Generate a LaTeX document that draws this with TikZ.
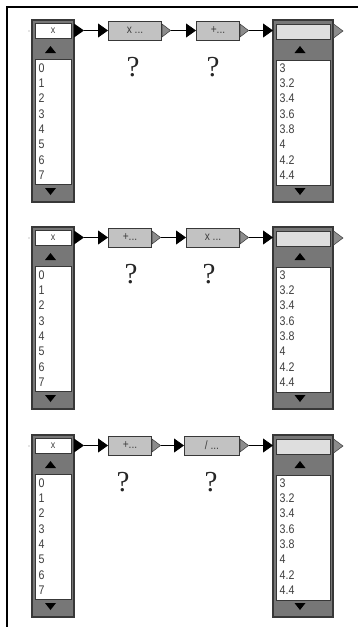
\documentclass[tikz,border=0pt]{standalone}
\usepackage{fontspec}
\setmainfont{Liberation Serif}
\setsansfont{Liberation Sans}
\newfontfamily\listfont[FakeStretch=0.85]{Liberation Sans}
\usetikzlibrary{arrows.meta}
\definecolor{bodyg}{HTML}{777777}
\definecolor{bdr}{HTML}{383838}
\definecolor{opg}{HTML}{C2C2C2}
\definecolor{hdrl}{HTML}{DEDEDE}
\definecolor{txtg}{HTML}{3E3E3E}
\definecolor{trig}{HTML}{8C8C8C}
\tikzset{
 body/.style={draw=bdr, fill=bodyg, line width=1.2pt, minimum width=42pt, minimum height=182pt, inner sep=0pt, outer sep=0pt, anchor=north west},
 hdrbox/.style={draw=bdr, line width=0.8pt, minimum height=15pt, inner sep=0pt, font=\listfont\fontsize{10.5}{10.5}\selectfont, text=txtg},
 listbox/.style={draw=bdr, fill=white, line width=0.8pt, minimum height=125pt, inner sep=0pt, anchor=north west},
 item/.style={anchor=west, inner sep=0pt, font=\listfont\fontsize{12.5}{12.5}\selectfont, text=txtg},
 opbox/.style={draw=bdr, fill=opg, line width=1pt, minimum height=19pt, inner sep=0pt, anchor=west, font=\listfont\fontsize{12}{12}\selectfont, text=txtg},
 conn/.style={line width=0.8pt, draw=black, -{Triangle[length=10pt,width=14pt]}},
 qmark/.style={font=\fontsize{29}{29}\selectfont, text=black!85, inner sep=0pt},
 outtri/.style={fill=trig, draw=bdr, line width=0.5pt},
}
\newcommand\mypanel[8]{%
\begin{scope}[shift={(0,#2)}]
 % left list box
 \node[body] (L#1) at (32,0) {};
 \node[hdrbox, fill=white, minimum width=36pt] (LH#1) at (53,10.5) {x};
 \node[listbox, minimum width=36pt] (LL#1) at (35,39) {};
 \foreach \v [count=\i from 0] in {0,1,2,3,4,5,6,7}
   \node[item] (LI#1\i) at (38.5,48+15.3*\i) {\v};
 \fill[black] (45,33) -- (56,33) -- (50.5,26) -- cycle;
 \fill[black] (45,168) -- (56,168) -- (50.5,175) -- cycle;
 \fill[black] (74,3.5) -- (84,10.5) -- (74,17.5) -- cycle;
 \coordinate (LO#1) at (84,10.5);
 \fill[black!45] (29,11) circle (0.7);
 % first operator
 \node[opbox, minimum width=#4pt] (A#1) at (108,10.5) {#3};
 \draw[conn] (LO#1) -- (A#1.west);
 \filldraw[outtri] (A#1.east) ++(0,-6.5) -- ++(8.5,6.5) -- ++(-8.5,6.5) -- cycle;
 \path (A#1.east) ++(8.5,0) coordinate (AO#1);
 \node[qmark] (QA#1) at (#7,47) {?};
 % second operator
 \node[opbox, minimum width=#6pt] (B#1) at (239-#6,10.5) {#5};
 \draw[conn] (AO#1) -- (B#1.west);
 \filldraw[outtri] (B#1.east) ++(0,-6.5) -- ++(8.5,6.5) -- ++(-8.5,6.5) -- cycle;
 \path (B#1.east) ++(8.5,0) coordinate (BO#1);
 \node[qmark] (QB#1) at (#8,47) {?};
 % right list box
 \node[body, minimum width=60pt] (R#1) at (273,0) {};
 \node[hdrbox, fill=hdrl, minimum width=54pt] (RH#1) at (303,11.5) {};
 \node[listbox, minimum width=54pt] (RL#1) at (276,40) {};
 \foreach \v [count=\i from 0] in {3,3.2,3.4,3.6,3.8,4,4.2,4.4}
   \node[item] (RI#1\i) at (279.5,48+15.3*\i) {\v};
 \fill[black] (294.5,33) -- (305.5,33) -- (300,26) -- cycle;
 \fill[black] (294.5,168) -- (305.5,168) -- (300,175) -- cycle;
 \draw[conn] (BO#1) -- (BO#1 -| R#1.west);
 \filldraw[outtri] (333.6,4) -- (343,11) -- (333.6,18) -- cycle;
\end{scope}}
\begin{document}
\begin{tikzpicture}[x=1pt,y=-1pt]
\useasboundingbox (0,0) rectangle (358,627);
\fill[white] (0,0) rectangle (358,627);
\draw[line width=1.4pt] (7,627) -- (7,7) -- (358,7);
\mypanel{a}{20}{x ...}{53}{+...}{43}{133}{213}
\mypanel{b}{227}{+...}{43}{x ...}{53}{131}{209}
\mypanel{c}{435}{+...}{43}{/ ...}{55}{123}{211}
\end{tikzpicture}
\end{document}
